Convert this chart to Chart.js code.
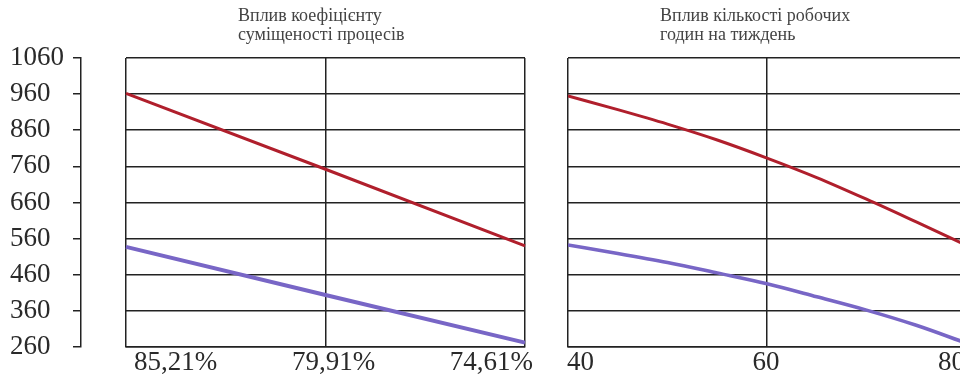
<!DOCTYPE html>
<html><head><meta charset="utf-8">
<script src="https://cdn.jsdelivr.net/npm/chart.js@4/dist/chart.umd.min.js"></script>
<style>
html,body{margin:0;padding:0;background:#fff;width:960px;height:378px;overflow:hidden;}
#wrap{position:relative;width:960px;height:378px;overflow:hidden;background:#fff;}
canvas{position:absolute;top:0;}
#c1{left:0;} #c2{left:545px;}
.ttl{position:absolute;font-family:"Liberation Serif",serif;font-size:18px;line-height:19px;color:#444;white-space:nowrap;}
</style></head><body>
<div id="wrap">
<canvas id="c1" width="545" height="378"></canvas>
<canvas id="c2" width="430" height="378"></canvas>
<div class="ttl" style="left:238px;top:6px">Вплив коефіцієнту<br>суміщеності процесів</div>
<div class="ttl" style="left:660px;top:6px">Вплив кількості робочих<br>годин на тиждень</div>
</div>
<script>
// ---- data ----
const coefLabels = ['85,21%', '79,91%', '74,61%'];
const coefRed = [962, 752, 540];
const coefPurple = [537, 404, 272];

const hours = [40, 45, 50, 55, 60, 65, 70, 75, 80];
const hoursRed = [955, 917, 877, 833, 783, 729, 669, 606, 542];
const hoursPurple = [542, 519, 494, 465, 435, 399, 362, 320, 271];

const yMin = 260, yMax = 1060, yStep = 100;
const hourMin = 40, hourMax = 80, hourStep = 20;

// ---- styles ----
const RED = '#b01f2c';
const PURPLE = '#7866c6';
const GRID = '#222222';
const TXT = '#2a2a2a';
const tickFont = {family: "'Liberation Serif', 'Times New Roman', serif", size: 27, lineHeight: 1.15};
const plain = v => String(v);

Chart.defaults.animation = false;

new Chart(document.getElementById('c1'), {
  type: 'line',
  data: {
    labels: coefLabels,
    datasets: [
      {data: coefRed, borderColor: RED, borderWidth: 3, pointRadius: 0, tension: 0},
      {data: coefPurple, borderColor: PURPLE, borderWidth: 4, pointRadius: 0, tension: 0}
    ]
  },
  options: {
    responsive: false,
    layout: {padding: {left: 10, right: 20, top: 58, bottom: 0}},
    plugins: {legend: {display: false}, tooltip: {enabled: false}},
    scales: {
      x: {
        type: 'category',
        offset: false,
        ticks: {align: 'inner', labelOffset: 8, padding: 0, maxRotation: 0, autoSkip: false, font: tickFont, color: TXT},
        grid: {drawTicks: false, color: GRID, lineWidth: 1.5, offset: false},
        border: {display: true, color: GRID, width: 1.5}
      },
      y: {
        position: 'left', weight: 1,
        min: yMin, max: yMax,
        ticks: {stepSize: yStep, crossAlign: 'far', padding: 9, font: tickFont, color: TXT, callback: plain},
        grid: {drawOnChartArea: false, drawTicks: true, tickLength: 8, color: GRID, lineWidth: 1.5},
        border: {display: true, color: GRID, width: 1.5},
        afterFit: s => { s.width = 71; }
      },
      y2: {
        position: 'left', weight: 0,
        min: yMin, max: yMax,
        ticks: {stepSize: yStep, display: false},
        grid: {drawOnChartArea: true, drawTicks: false, color: GRID, lineWidth: 1.5},
        border: {display: false},
        afterFit: s => { s.width = 45; }
      }
    }
  }
});

new Chart(document.getElementById('c2'), {
  type: 'line',
  data: {
    datasets: [
      {data: hours.map((h, i) => ({x: h, y: hoursRed[i]})), borderColor: RED, borderWidth: 3, pointRadius: 0, cubicInterpolationMode: 'monotone'},
      {data: hours.map((h, i) => ({x: h, y: hoursPurple[i]})), borderColor: PURPLE, borderWidth: 3.5, pointRadius: 0, cubicInterpolationMode: 'monotone'}
    ]
  },
  options: {
    responsive: false,
    layout: {padding: {left: 23, right: 9, top: 58, bottom: 0}},
    plugins: {legend: {display: false}, tooltip: {enabled: false}},
    scales: {
      x: {
        type: 'linear',
        min: hourMin, max: hourMax,
        ticks: {stepSize: hourStep, align: 'inner', labelOffset: -1, padding: 0, maxRotation: 0, font: tickFont, color: TXT, callback: plain},
        grid: {drawTicks: false, color: GRID, lineWidth: 1.5},
        border: {display: true, color: GRID, width: 1.5}
      },
      y: {
        position: 'left',
        min: yMin, max: yMax,
        ticks: {stepSize: yStep, display: false},
        grid: {drawOnChartArea: true, drawTicks: false, color: GRID, lineWidth: 1.5},
        border: {display: false},
        afterFit: s => { s.width = 0; }
      }
    }
  }
});
</script>
</body></html>
